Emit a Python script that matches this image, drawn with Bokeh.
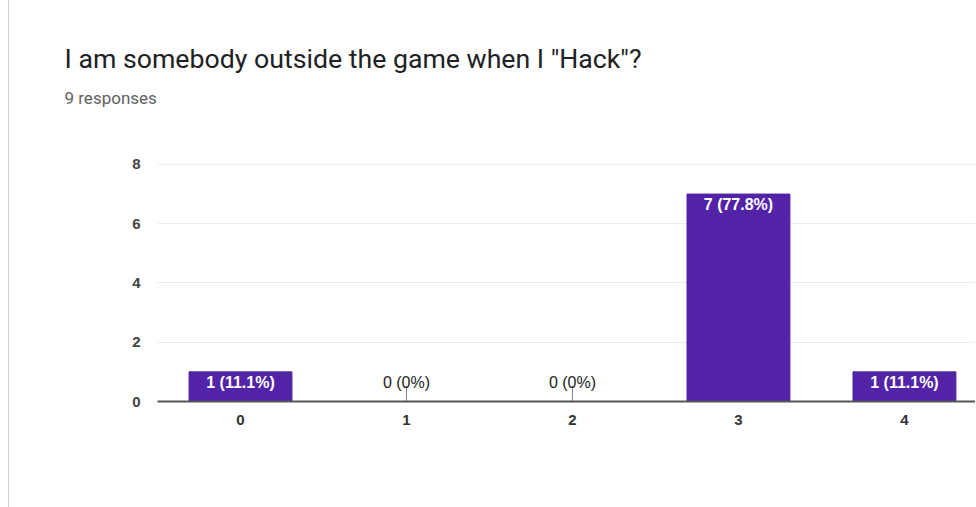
from bokeh.plotting import figure
from bokeh.models import ColumnDataSource, Range1d, FixedTicker, Title
from bokeh.core.properties import value
from bokeh.embed import file_html
from bokeh.resources import INLINE

# ---- data ----
categories = [0, 1, 2, 3, 4]
counts = [1, 0, 0, 7, 1]
total = 9
title_text = 'I am somebody outside the game when I "Hack"?'
subtitle_text = "9 responses"
y_ticks = [0, 2, 4, 6, 8]

labels = []
for c in counts:
    pct = c / total * 100
    pct_s = "0%" if c == 0 else f"{pct:.1f}%"
    labels.append(f"{c} ({pct_s})")

nonzero = [i for i, c in enumerate(counts) if c > 0]
zero = [i for i, c in enumerate(counts) if c == 0]

src_bars = ColumnDataSource(dict(
    x=[categories[i] for i in nonzero],
    top=[counts[i] for i in nonzero],
    label=[labels[i] for i in nonzero],
))
STEM = 0.53
src_zero = ColumnDataSource(dict(
    x=[categories[i] for i in zero],
    y0=[counts[i] for i in zero],
    y1=[counts[i] + STEM for i in zero],
    label=[labels[i] for i in zero],
))

FONT = "Liberation Sans"
FS_AX = "15px"
FS_LB = "16px"

W, H = 967, 507
# the frame reaches a little above the top gridline (8) to leave room under the subtitle
p = figure(width=W, height=H, output_backend="svg", toolbar_location=None,
           x_range=Range1d(-0.5, 4.434), y_range=Range1d(0, 9.55))
p.min_border_left = 148
p.min_border_top = 118
p.min_border_bottom = 106
p.min_border_right = 0
p.outline_line_color = None
p.background_fill_color = "white"
p.border_fill_color = "white"
p.styles = {"border-left": "1px solid #cfcfcf", "margin-left": "8px"}

p.vbar(x="x", top="top", width=0.62, source=src_bars, color="#5223a6")
p.text(x="x", y="top", text="label", source=src_bars, text_color="white",
       text_align="center", text_baseline="top", y_offset=2,
       text_font=value(FONT), text_font_size=FS_LB, text_font_style="bold")

p.segment(x0="x", y0="y0", x1="x", y1="y1", source=src_zero,
          line_color="#888888", line_width=1)
p.text(x="x", y="y1", text="label", source=src_zero, text_color="#222222",
       text_align="center", text_baseline="alphabetic", y_offset=-3,
       text_font=value(FONT), text_font_size=FS_LB)

# axes
p.yaxis.ticker = FixedTicker(ticks=y_ticks)
p.yaxis.axis_line_color = None
p.yaxis.major_tick_line_color = None
p.yaxis.minor_tick_line_color = None
p.yaxis.major_label_standoff = 11
p.yaxis.major_label_text_font = FONT
p.yaxis.major_label_text_font_size = FS_AX
p.yaxis.major_label_text_font_style = "bold"
p.yaxis.major_label_text_color = "#444444"

p.xaxis.ticker = FixedTicker(ticks=categories)
p.xaxis.major_label_overrides = {c: str(c) for c in categories}
p.xaxis.axis_line_color = "#555555"
p.xaxis.axis_line_width = 2
p.xaxis.major_tick_line_color = None
p.xaxis.minor_tick_line_color = None
p.xaxis.major_label_standoff = 7
p.xaxis.major_label_text_font = FONT
p.xaxis.major_label_text_font_size = FS_AX
p.xaxis.major_label_text_font_style = "bold"
p.xaxis.major_label_text_color = "#333333"

p.xgrid.grid_line_color = None
p.ygrid.ticker = FixedTicker(ticks=y_ticks)
p.ygrid.grid_line_color = "#ebebeb"
p.ygrid.grid_line_width = 1

# titles (added nearest-first)
p.add_layout(Title(text=subtitle_text, text_font="Roboto", text_font_size="17px",
                   text_color="#616161", text_font_style="normal",
                   align="left", offset=-93, standoff=22), "above")
p.add_layout(Title(text=title_text, text_font="Roboto", text_font_size="26.7px",
                   text_color="#202124", text_font_style="normal",
                   align="left", offset=-93, standoff=0), "above")

open("out.html", "w").write(file_html(p, INLINE))
